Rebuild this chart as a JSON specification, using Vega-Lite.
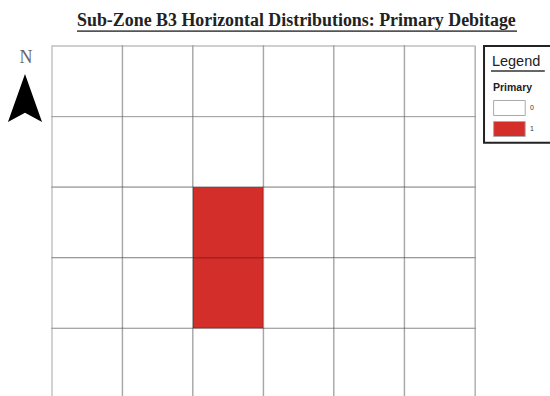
{"$schema":"https://vega.github.io/schema/vega-lite/v6.json","width":423,"height":353,"autosize":"none","padding":{"left":52,"top":46,"right":75,"bottom":0},"background":"white","title":{"text":"Sub-Zone B3 Horizontal Distributions: Primary Debitage","anchor":"start","frame":"group","dx":25,"offset":0,"font":"Liberation Serif","fontSize":17.9,"fontWeight":"bold","color":"#222"},"layer":[{"data":{"values":[{"col":0,"row":0,"Primary":0},{"col":1,"row":0,"Primary":0},{"col":2,"row":0,"Primary":0},{"col":3,"row":0,"Primary":0},{"col":4,"row":0,"Primary":0},{"col":5,"row":0,"Primary":0},{"col":0,"row":1,"Primary":0},{"col":1,"row":1,"Primary":0},{"col":2,"row":1,"Primary":0},{"col":3,"row":1,"Primary":0},{"col":4,"row":1,"Primary":0},{"col":5,"row":1,"Primary":0},{"col":0,"row":2,"Primary":0},{"col":1,"row":2,"Primary":0},{"col":2,"row":2,"Primary":1},{"col":3,"row":2,"Primary":0},{"col":4,"row":2,"Primary":0},{"col":5,"row":2,"Primary":0},{"col":0,"row":3,"Primary":0},{"col":1,"row":3,"Primary":0},{"col":2,"row":3,"Primary":1},{"col":3,"row":3,"Primary":0},{"col":4,"row":3,"Primary":0},{"col":5,"row":3,"Primary":0},{"col":0,"row":4,"Primary":0},{"col":1,"row":4,"Primary":0},{"col":2,"row":4,"Primary":0},{"col":3,"row":4,"Primary":0},{"col":4,"row":4,"Primary":0},{"col":5,"row":4,"Primary":0}]},"transform":[{"calculate":"datum.col+1","as":"col2"},{"calculate":"datum.row+1","as":"row2"}],"mark":{"type":"rect","stroke":"#000","strokeOpacity":0.25,"strokeWidth":1.4},"encoding":{"x":{"field":"col","type":"quantitative","scale":{"domain":[0,6],"nice":false,"zero":false},"axis":null},"x2":{"field":"col2"},"y":{"field":"row","type":"quantitative","scale":{"domain":[0,5],"reverse":true,"nice":false,"zero":false},"axis":null},"y2":{"field":"row2"},"fill":{"field":"Primary","type":"nominal","scale":{"domain":[0,1],"range":["#ffffff","#d42e2a"]},"legend":{"title":"Primary","orient":"none","legendX":441,"legendY":37,"padding":0,"titleFont":"Liberation Sans","titleFontSize":10.5,"titleFontWeight":"bold","titleColor":"#222","titlePadding":6,"labelFont":"Liberation Sans","labelFontSize":7,"labelColor":"#333","labelOffset":20,"symbolType":"M-1,-0.95H3V0.95H-1Z","symbolSize":250,"symbolStrokeColor":"#aaa","symbolStrokeWidth":1,"rowPadding":0}}}},{"data":{"values":[{"a":1}]},"mark":{"type":"rect","fill":"transparent","stroke":"#222","strokeWidth":2},"encoding":{"x":{"datum":6.128,"type":"quantitative"},"x2":{"datum":7.2},"y":{"datum":0,"type":"quantitative"},"y2":{"datum":1.372}}},{"data":{"values":[{"a":1}]},"mark":{"type":"text","text":"Legend","align":"left","baseline":"middle","font":"Liberation Sans","fontSize":14.5,"color":"#222"},"encoding":{"x":{"datum":6.24,"type":"quantitative"},"y":{"datum":0.226,"type":"quantitative"}}},{"data":{"values":[{"a":1}]},"mark":{"type":"rule","stroke":"#333","strokeWidth":1.3},"encoding":{"x":{"datum":6.227,"type":"quantitative"},"x2":{"datum":6.99},"y":{"datum":0.354,"type":"quantitative"}}},{"data":{"values":[{"a":1}]},"mark":{"type":"rule","stroke":"#555","strokeWidth":1.8},"encoding":{"x":{"datum":0.355,"type":"quantitative"},"x2":{"datum":6.596},"y":{"datum":-0.212,"type":"quantitative"}}},{"data":{"values":[{"a":1}]},"mark":{"type":"text","text":"N","align":"center","baseline":"middle","font":"Liberation Serif","fontSize":18,"color":"#666"},"encoding":{"x":{"datum":-0.369,"type":"quantitative"},"y":{"datum":0.177,"type":"quantitative"}}},{"data":{"values":[{"a":1}]},"mark":{"type":"point","shape":"M0,-1L0.71,1L0,0.62L-0.71,1Z","filled":true,"fill":"#000","opacity":1,"size":2304},"encoding":{"x":{"datum":-0.383,"type":"quantitative"},"y":{"datum":0.736,"type":"quantitative"}}}]}
